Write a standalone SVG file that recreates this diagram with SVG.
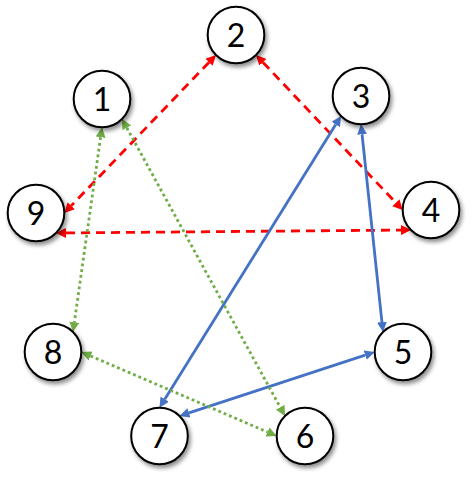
<svg xmlns="http://www.w3.org/2000/svg" width="474" height="492" viewBox="0 0 474 492">
<style>
.node circle{fill:#fff;stroke:#000;stroke-width:2;filter:url(#sh)}
.node text{font-family:Lato,"Liberation Sans",sans-serif;font-size:32px;text-anchor:middle;fill:#000}
.red{stroke:#FF0000;stroke-width:2.8;stroke-dasharray:9 6;fill:none;marker-start:url(#ar);marker-end:url(#ar)}
.blue{stroke:#4472C4;stroke-width:2.8;fill:none;marker-start:url(#ab);marker-end:url(#ab)}
.green{stroke:#70AD47;stroke-width:2.8;stroke-dasharray:2.8 3;fill:none;marker-start:url(#ag);marker-end:url(#ag)}
</style>
<defs>
<filter id="sh" x="-30%" y="-30%" width="170%" height="170%">
<feDropShadow dx="2" dy="3" stdDeviation="2" flood-color="#000" flood-opacity="0.45"/>
</filter>
<marker id="ar" viewBox="0 0 10 10" markerUnits="userSpaceOnUse" markerWidth="10" markerHeight="10" refX="0" refY="5" orient="auto-start-reverse"><path d="M0,0 L10,5 L0,10 z" fill="#FF0000"/></marker>
<marker id="ab" viewBox="0 0 10 10" markerUnits="userSpaceOnUse" markerWidth="10" markerHeight="10" refX="0" refY="5" orient="auto-start-reverse"><path d="M0,0 L10,5 L0,10 z" fill="#4472C4"/></marker>
<marker id="ag" viewBox="0 0 10 10" markerUnits="userSpaceOnUse" markerWidth="10" markerHeight="10" refX="0" refY="5" orient="auto-start-reverse"><path d="M0,0 L10,5 L0,10 z" fill="#70AD47"/></marker>
</defs>
<g id="connectors">
<line class="red" x1="209.07" y1="62.21" x2="71.23" y2="205.79"/>
<line class="red" x1="262.87" y1="62.26" x2="395.83" y2="202.74"/>
<line class="red" x1="66" y1="232.92" x2="401" y2="230.08"/>
<line class="blue" x1="335.72" y1="124.49" x2="164.78" y2="399.21"/>
<line class="blue" x1="362.05" y1="134.24" x2="381.95" y2="322.06"/>
<line class="blue" x1="189.0" y1="412.88" x2="365.2" y2="355.12"/>
<line class="green" x1="100.6" y1="137.2" x2="74.4" y2="322.1"/>
<line class="green" x1="126.81" y1="127.77" x2="280.19" y2="407.23"/>
<line class="green" x1="90.49" y1="355.95" x2="267.51" y2="432.05"/>
</g>
<g id="node1" class="node"><circle cx="102" cy="99" r="28.3"/><text x="102" y="110.5">1</text></g>
<g id="node2" class="node"><circle cx="236" cy="35" r="28.3"/><text x="236" y="46.5">2</text></g>
<g id="node3" class="node"><circle cx="361" cy="96" r="28.3"/><text x="361" y="107.5">3</text></g>
<g id="node4" class="node"><circle cx="431" cy="210" r="28.3"/><text x="431" y="221.5">4</text></g>
<g id="node5" class="node"><circle cx="403" cy="352" r="28.3"/><text x="403" y="363.5">5</text></g>
<g id="node6" class="node"><circle cx="305" cy="436" r="28.3"/><text x="305" y="447.5">6</text></g>
<g id="node7" class="node"><circle cx="159.5" cy="436" r="28.3"/><text x="159.5" y="447.5">7</text></g>
<g id="node8" class="node"><circle cx="53" cy="352" r="28.3"/><text x="53" y="363.5">8</text></g>
<g id="node9" class="node"><circle cx="36" cy="213" r="28.3"/><text x="36" y="224.5">9</text></g>
</svg>
